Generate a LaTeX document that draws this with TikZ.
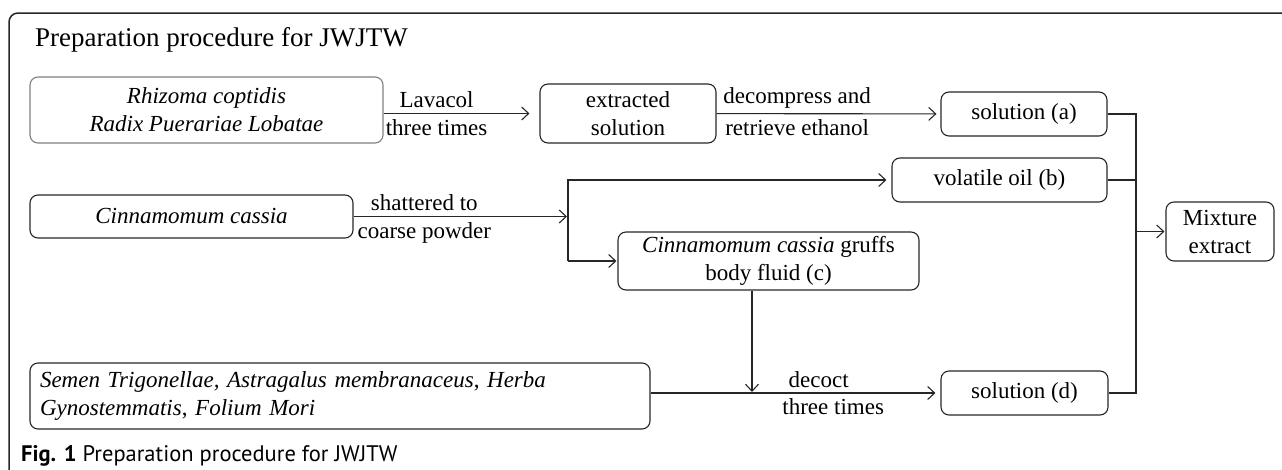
\documentclass[tikz,border=0pt]{standalone}
\usepackage{fontspec}
\setmainfont{Liberation Serif}
\newfontfamily\capfont{PT Sans}
\usetikzlibrary{arrows.meta}
\begin{document}
\begin{tikzpicture}[x=1pt,y=-1pt,>={Straight Barb[length=7pt,width=13pt]},
  box/.style={draw=black!85,line width=1.1pt,rounded corners=8pt,inner sep=0pt,align=center,font=\fontsize{23}{28}\selectfont},
  lbl/.style={font=\fontsize{23}{27}\selectfont,inner sep=5pt,align=center},
  link/.style={draw=black!85,line width=1.1pt}]
\useasboundingbox (0,0) rectangle (1282,469);
% frame and titles
\draw[line width=1.5pt,black!85,rounded corners=9pt] (1290,13) -- (9,13) -- (9,480);
\node[anchor=base west,inner sep=0pt,font=\fontsize{27}{31}\selectfont] (title) at (35,46) {Preparation procedure for JWJTW};
\node[anchor=base west,inner sep=0pt,font=\capfont\fontsize{22.5}{26}\selectfont] (caption) at (21,461) {\textbf{Fig. 1} Preparation procedure for JWJTW};
% boxes
\node[box,draw=black!50,minimum width=353,minimum height=66] (rhizoma) at (206.5,110) {\textit{Rhizoma coptidis}\\\textit{Radix Puerariae Lobatae}};
\node[box,minimum width=176,minimum height=59] (extracted) at (628,113.5) {extracted\\solution};
\node[box,minimum width=166,minimum height=44] (sola) at (1024,114) {solution (a)};
\node[box,minimum width=323,minimum height=43] (cinna) at (191.5,216.5) {\textit{Cinnamomum cassia}};
\node[box,minimum width=215,minimum height=44] (volatile) at (999.5,180) {volatile oil (b)};
\node[box,minimum width=301,minimum height=58] (gruffs) at (768.5,261) {\textit{Cinnamomum cassia} gruffs\\body fluid (c)};
\node[box,minimum width=108,minimum height=59] (mixture) at (1220,231.5) {Mixture\\extract};
\node[box,align=left,text width=600,inner xsep=10pt,minimum height=66] (semen) at (340,396) {\textit{Semen Trigonellae, Astragalus membranaceus}, \textit{Herba}\\\textit{Gynostemmatis}, \textit{Folium Mori}};
\node[box,minimum width=167,minimum height=44] (sold) at (1024.5,393) {solution (d)};
% junctions
\coordinate (split) at (568,216.5);
\coordinate (drop) at (752,393);
\coordinate (bus) at (1136,114);
% flow
\draw[link,->,shorten >=10pt] (rhizoma.east |- extracted) -- node[lbl,above,pos=0.34] (lava) {Lavacol} node[lbl,below,pos=0.34] (lavb) {three times} (extracted);
\draw[link,->,shorten >=4pt] (extracted) -- node[lbl,above,pos=0.36] (deca) {decompress and} node[lbl,below,pos=0.36] (decb) {retrieve ethanol} (sola);
\draw[link,->,shorten >=1pt] (cinna) -- node[lbl,above,pos=0.33] (shata) {shattered to} node[lbl,below,pos=0.33] (shatb) {coarse powder} (split);
\draw[link,->,shorten >=5pt] (split |- gruffs) -- (split |- volatile) -- (volatile);
\draw[link,->,shorten >=1pt] (split |- gruffs) -- (gruffs);
\draw[link,->,shorten >=1pt] (gruffs.south -| drop) -- (drop);
\draw[link,->,shorten >=5pt] (semen.east |- sold) -- node[lbl,above,pos=0.58] (deco) {decoct} node[lbl,below,pos=0.63] (decob) {three times} (sold);
\draw[link] (sola) -- (bus) -- (bus |- sold) -- (sold);
\draw[link] (volatile) -- (bus |- volatile);
\draw[link,->,shorten >=1pt] (bus |- mixture) -- (mixture);
\end{tikzpicture}
\end{document}
